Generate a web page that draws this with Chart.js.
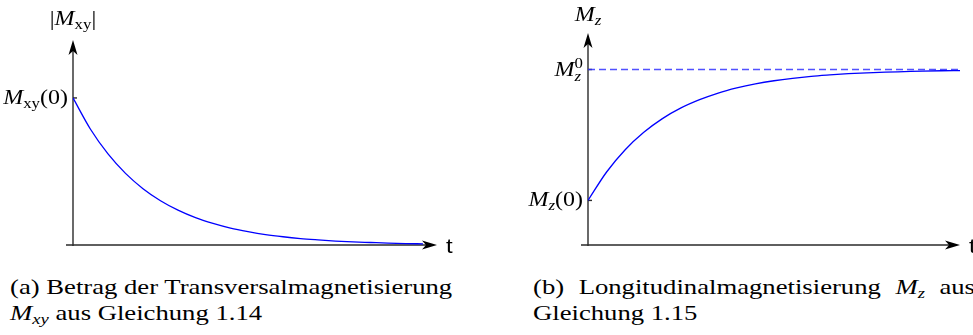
<!DOCTYPE html>
<html>
<head>
<meta charset="utf-8">
<script src="https://cdn.jsdelivr.net/npm/chart.js@4"></script>
<style>
  html, body { margin: 0; padding: 0; background: #fff; width: 973px; height: 335px; overflow: hidden; }
  canvas { position: absolute; top: 0; }
  #left { left: 0; }
  #right { left: 500px; }
  .cap { position: absolute; font-family: "Liberation Serif", "Times New Roman", serif; font-size: 21px; line-height: 21px;
         color: #000; white-space: nowrap; transform-origin: 0 0; }
  .cap sub { font-size: 0.7em; vertical-align: -0.28em; line-height: 0; font-style: italic; }
</style>
</head>
<body>
<canvas id="left" width="480" height="265"></canvas>
<canvas id="right" width="473" height="265"></canvas>

<div class="cap" id="capA1" style="left:10px;top:277px">(a) Betrag der Transversalmagnetisierung</div>
<div class="cap" id="capA2" style="left:10px;top:303px"><i>M</i><sub>xy</sub> aus Gleichung 1.14</div>
<div class="cap" id="capB1" style="left:533px;top:277px">(b) Longitudinalmagnetisierung <i>M</i><sub>z</sub> aus</div>
<div class="cap" id="capB2" style="left:533px;top:303px">Gleichung 1.15</div>

<script>
// time samples shared by both curves
const tSamples = [0, 0.25, 0.5, 0.75, 1, 1.25, 1.5, 1.75, 2, 2.25, 2.5, 2.75,
                  3, 3.25, 3.5, 3.75, 4, 4.25, 4.5, 4.75, 5];
// |Mxy| decay, relative to Mxy(0)
const mxyValues = [1, 0.787, 0.619, 0.487, 0.383, 0.301, 0.237, 0.186, 0.147, 0.115, 0.091,
                   0.071, 0.056, 0.044, 0.035, 0.027, 0.021, 0.017, 0.013, 0.010, 0.008];
// Mz recovery, relative to Mz0
const mzValues = [0.254, 0.416, 0.543, 0.642, 0.720, 0.781, 0.828, 0.866, 0.895, 0.918, 0.936,
                  0.950, 0.961, 0.969, 0.976, 0.981, 0.985, 0.988, 0.991, 0.993, 0.994];
const mzEquilibrium = 1;

const SERIF = '"Liberation Serif", "Times New Roman", serif';
const STRETCH = 1.2;   // glyphs run a bit wide

const it = s => `italic ${s}px ${SERIF}`;
const rm = s => `${s}px ${SERIF}`;

// text made of runs: {t, f, dy, hold}; hold stacks the next run on top of this one
function richText(ctx, runs, x, y, align) {
  let pos = 0, holdStart = null, holdEnd = 0;
  runs.forEach(r => {
    ctx.font = r.f;
    r.w = ctx.measureText(r.t).width;
    if (holdStart !== null) {
      r.x = holdStart;
      pos = Math.max(holdEnd, holdStart + r.w);
      holdStart = null;
    } else {
      r.x = pos;
      if (r.hold) { holdStart = pos; holdEnd = pos + r.w; } else pos += r.w;
    }
  });
  const total = pos * STRETCH;
  const x0 = align === 'right' ? x - total : align === 'center' ? x - total / 2 : x;
  ctx.save();
  ctx.translate(x0, y);
  ctx.scale(STRETCH, 1);
  ctx.textAlign = 'left';
  ctx.textBaseline = 'alphabetic';
  runs.forEach(r => { ctx.font = r.f; ctx.fillText(r.t, r.x, r.dy || 0); });
  ctx.restore();
}

function arrowHead(ctx, tx, ty, ang) {
  ctx.save();
  ctx.translate(tx, ty);
  ctx.rotate(ang);
  ctx.beginPath();
  ctx.moveTo(0, 0);
  ctx.lineTo(-15, -4.5);
  ctx.lineTo(-11, 0);
  ctx.lineTo(-15, 4.5);
  ctx.closePath();
  ctx.fill();
  ctx.restore();
}

// arrow axes, inward ticks, math labels
const axisDeco = {
  id: 'axisDeco',
  beforeDatasetsDraw(chart, args, opts) {
    const { ctx, chartArea: a, scales: { x, y } } = chart;
    const x0 = x.getPixelForValue(0), y0 = y.getPixelForValue(0);
    ctx.save();
    ctx.strokeStyle = '#2b2b2b';
    ctx.fillStyle = '#000';
    ctx.lineWidth = 1.4;
    ctx.beginPath();
    ctx.moveTo(x0 - 7, y0);
    ctx.lineTo(a.right - 11, y0);
    ctx.moveTo(x0, y0 + 1);
    ctx.lineTo(x0, a.top + 11);
    ctx.stroke();
    arrowHead(ctx, a.right, y0, 0);
    arrowHead(ctx, x0, a.top, -Math.PI / 2);

    ctx.fillStyle = '#000';
    opts.ticks.forEach(tk => {
      const py = y.getPixelForValue(tk.value);
      ctx.beginPath();
      ctx.moveTo(x0, py);
      ctx.lineTo(x0 + 4, py);
      ctx.stroke();
      richText(ctx, tk.runs, x0 - 5, py + 6, 'right');
    });
    richText(ctx, opts.title, x0, opts.titleY, 'center');

    ctx.save();
    ctx.translate(a.right + 9, y0 + 8);
    ctx.scale(STRETCH, 1);
    ctx.font = '20px "Liberation Sans", Arial, sans-serif';
    ctx.fillText('t', 0, 0);
    ctx.restore();
    ctx.restore();
  }
};

function baseOptions(xMax, yMax, padding, deco) {
  return {
    responsive: false,
    animation: false,
    events: [],
    layout: { padding },
    scales: {
      x: { type: 'linear', display: false, min: 0, max: xMax },
      y: { type: 'linear', display: false, min: 0, max: yMax }
    },
    plugins: { legend: { display: false }, tooltip: { enabled: false }, axisDeco: deco }
  };
}

const toPoints = vals => tSamples.map((t, i) => ({ x: t, y: vals[i] }));

new Chart(document.getElementById('left'), {
  type: 'line',
  data: {
    datasets: [{
      data: toPoints(mxyValues),
      borderColor: '#0000ff',
      borderWidth: 1.3,
      pointRadius: 0,
      cubicInterpolationMode: 'monotone'
    }]
  },
  options: baseOptions(5.2, 1.394, { left: 73, top: 40, right: 43, bottom: 20 }, {
    ticks: [{ value: mxyValues[0], runs: [
      { t: 'M', f: it(20) }, { t: 'xy', f: rm(14), dy: 4 }, { t: '(0)', f: rm(20) }] }],
    title: [{ t: '|', f: rm(20) }, { t: 'M', f: it(20) }, { t: 'xy', f: rm(14), dy: 4 }, { t: '|', f: rm(20) }],
    titleY: 25
  }),
  plugins: [axisDeco]
});

new Chart(document.getElementById('right'), {
  type: 'line',
  data: {
    datasets: [{
      data: toPoints(mzValues),
      borderColor: '#0000ff',
      borderWidth: 1.3,
      pointRadius: 0,
      cubicInterpolationMode: 'monotone'
    }, {
      data: [{ x: 0, y: mzEquilibrium }, { x: 5, y: mzEquilibrium }],
      borderColor: 'rgba(50,50,255,0.85)',
      borderWidth: 1.3,
      borderDash: [7, 4],
      pointRadius: 0
    }]
  },
  options: baseOptions(5, 1.208, { left: 88, top: 33, right: 13, bottom: 20 }, {
    ticks: [
      { value: mzEquilibrium, runs: [
        { t: 'M', f: it(20) }, { t: 'z', f: it(14), dy: 5, hold: true }, { t: '0', f: rm(14), dy: -8 }] },
      { value: mzValues[0], runs: [
        { t: 'M', f: it(20) }, { t: 'z', f: it(14), dy: 4 }, { t: '(0)', f: rm(20) }] }
    ],
    title: [{ t: 'M', f: it(20) }, { t: 'z', f: it(14), dy: 4 }],
    titleY: 21
  }),
  plugins: [axisDeco]
});

// captions: same glyph stretch, first lines justified to a common width
const capA1 = document.getElementById('capA1');
const lineW = capA1.offsetWidth;
const capScale = 442 / lineW;
const capB1 = document.getElementById('capB1');
capB1.style.whiteSpace = 'normal';
capB1.style.width = lineW + 'px';
capB1.style.textAlign = 'justify';
capB1.style.textAlignLast = 'justify';
document.querySelectorAll('.cap').forEach(el => { el.style.transform = `scaleX(${capScale})`; });
</script>
</body>
</html>
